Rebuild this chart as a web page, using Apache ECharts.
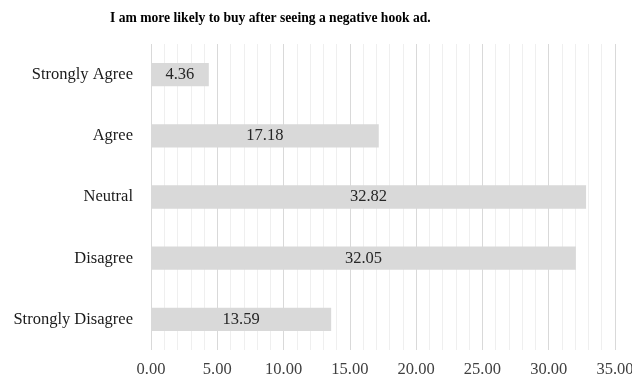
<!DOCTYPE html>
<html>
<head>
<meta charset="utf-8">
<script src="https://cdn.jsdelivr.net/npm/echarts@6/dist/echarts.min.js"></script>
<style>
  html, body { margin: 0; padding: 0; background: #ffffff; }
  #chart { width: 632px; height: 376px; }
</style>
</head>
<body>
<div id="chart"></div>
<script>
// Survey response shares (percent), listed bottom-to-top as drawn
const categories = ['Strongly Disagree', 'Disagree', 'Neutral', 'Agree', 'Strongly Agree'];
const percentages = [13.59, 32.05, 32.82, 17.18, 4.36];
const axisTicks = [0, 5, 10, 15, 20, 25, 30, 35];

const serif = '"Liberation Serif", "Times New Roman", serif';

const chart = echarts.init(document.getElementById('chart'));
chart.setOption({
  animation: false,
  backgroundColor: '#ffffff',
  title: {
    text: 'I am more likely to buy after seeing a negative hook ad.',
    left: 105,
    top: 6,
    textStyle: { fontFamily: serif, fontSize: 13.6, fontWeight: 'bold', color: '#000000' }
  },
  grid: {
    left: 151, right: 17, top: 44, bottom: 26,
    containLabel: false,
    outerBoundsMode: 'none'
  },
  xAxis: {
    type: 'value',
    min: axisTicks[0],
    max: axisTicks[axisTicks.length - 1],
    interval: axisTicks[1] - axisTicks[0],
    axisLine: { show: false },
    axisTick: { show: false },
    axisLabel: {
      fontFamily: serif, fontSize: 16.5, color: '#404040', margin: 11,
      formatter: v => v.toFixed(2)
    },
    splitLine: { show: true, lineStyle: { color: '#d9d9d9', width: 1 } },
    minorTick: { show: false, splitNumber: 5 },
    minorSplitLine: { show: true, lineStyle: { color: '#efefef', width: 1 } }
  },
  yAxis: {
    type: 'category',
    data: categories,
    axisLine: { show: false },
    axisTick: { show: false },
    axisLabel: { fontFamily: serif, fontSize: 16.5, color: '#1a1a1a', margin: 18 }
  },
  series: [{
    type: 'bar',
    data: percentages,
    barWidth: '38%',
    itemStyle: { color: '#d9d9d9' },
    label: {
      show: true,
      position: 'inside',
      fontFamily: serif,
      fontSize: 16.5,
      color: '#262626',
      formatter: p => p.value.toFixed(2)
    }
  }]
});
</script>
</body>
</html>
